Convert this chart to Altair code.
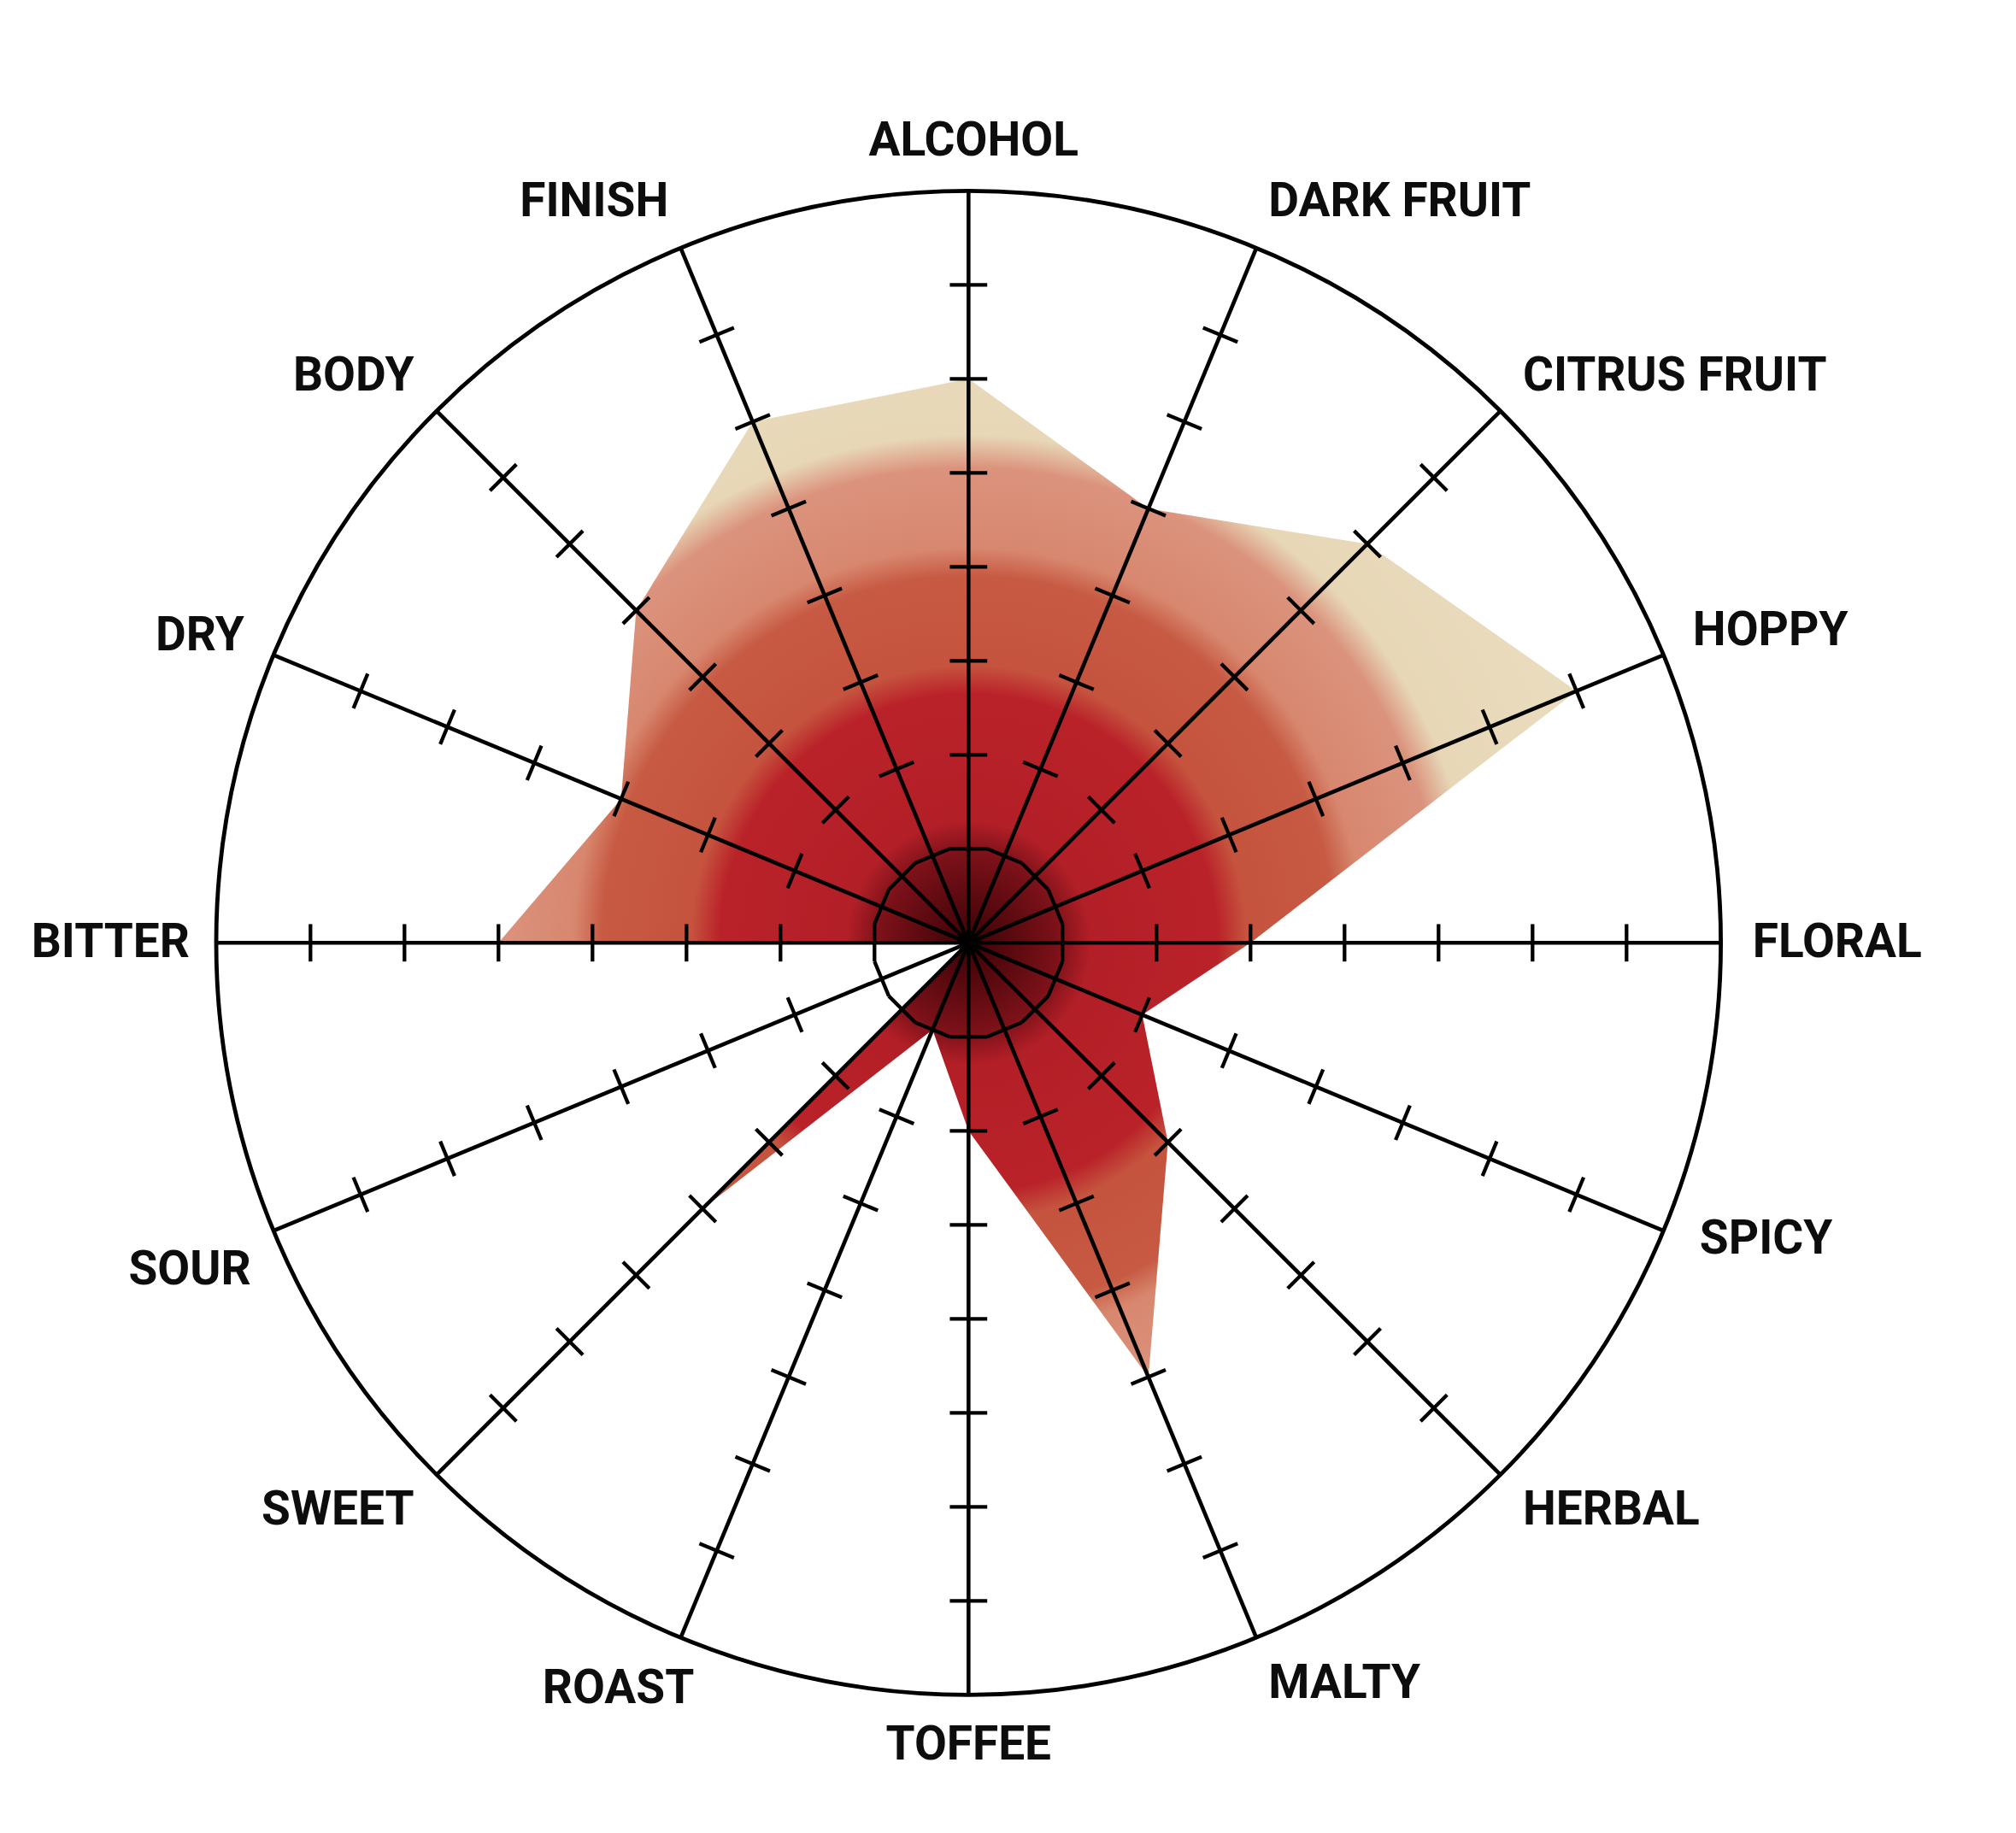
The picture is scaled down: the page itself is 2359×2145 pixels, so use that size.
import math
import altair as alt
import pandas as pd

# ---------------- data ----------------
categories = ["ALCOHOL", "DARK FRUIT", "CITRUS FRUIT", "HOPPY", "FLORAL", "SPICY",
              "HERBAL", "MALTY", "TOFFEE", "ROAST", "SWEET", "SOUR", "BITTER",
              "DRY", "BODY", "FINISH"]
values = [6, 5, 6, 7, 3, 2, 3, 5, 2, 1, 4, 0, 5, 4, 5, 6]
tick_levels = [1, 2, 3, 4, 5, 6, 7]
scale_max = 8

# ---------------- layout ----------------
W, H = 2330, 2120          # plot area (px)
PPU = 110.0                # pixels per unit
CX, CY = 1125.3, 1095.3    # centre of the radar inside the plot area (px)
x_dom = [-CX / PPU, (W - CX) / PPU]
y_dom = [(CY - H) / PPU, CY / PPU]

# small hand placement nudges of some labels (px: right, down)
label_nudge = {"SOUR": (8, 24), "SPICY": (8, -12), "ROAST": (30, 6),
               "BITTER": (6, 0), "HOPPY": (0, -6), "ALCOHOL": (6, 0)}

n = len(categories)
ang = [2 * math.pi * i / n for i in range(n)]
sx = [math.sin(a) for a in ang]
cy = [math.cos(a) for a in ang]

xs = alt.Scale(domain=x_dom, nice=False, zero=False)
ys = alt.Scale(domain=y_dom, nice=False, zero=False)

# gradient disc (radial bands) ----------------------------------------
stops_r = [0.0, 0.5, 0.95, 1.3, 2.65, 2.95, 3.9, 4.2, 5.05, 5.4, 8.0]
stops_c = ["#3a0306", "#5c0a10", "#7c1119", "#b31f27", "#ba2229", "#c5533e",
           "#c75a43", "#d8876f", "#db937d", "#e7d7b7", "#ebdfc2"]
grad = alt.RadialGradient(
    gradient="radial",
    stops=[alt.GradientStop(offset=r / scale_max, color=c) for r, c in zip(stops_r, stops_c)],
    x1=0.5, y1=0.5, r1=0, x2=0.5, y2=0.5, r2=0.5,
)
centre_df = pd.DataFrame({"x": [0.0], "y": [0.0], "r": [scale_max]})
rscale = alt.Scale(type="linear", domain=[0, scale_max], range=[0, scale_max * PPU], zero=True)

disc = alt.Chart(centre_df).mark_arc(theta=0, theta2=2 * math.pi, fill=grad, strokeWidth=0).encode(
    x=alt.X("x:Q", scale=xs, axis=None),
    y=alt.Y("y:Q", scale=ys, axis=None),
    radius=alt.Radius("r:Q", scale=rscale),
)

# white mask: everything outside the data polygon (keyhole polygon) -------
B = scale_max + 0.4
pts = [(-B, 0), (-B, B), (B, B), (B, -B), (-B, -B), (-B, 0)]
start = categories.index("BITTER")
for k in range(n + 1):
    i = (start - k) % n
    pts.append((values[i] * sx[i], values[i] * cy[i]))
pts.append((-B, 0))
mask_df = pd.DataFrame({"x": [p[0] for p in pts], "y": [p[1] for p in pts],
                        "o": list(range(len(pts)))})
mask = alt.Chart(mask_df).mark_line(fill="white", strokeOpacity=0, strokeWidth=0).encode(
    x=alt.X("x:Q", scale=xs, axis=None),
    y=alt.Y("y:Q", scale=ys, axis=None),
    order="o:Q",
)

# spokes ---------------------------------------------------------------
spoke_df = pd.DataFrame({"x": [0.0] * n, "y": [0.0] * n,
                         "x2": [scale_max * s for s in sx],
                         "y2": [scale_max * c for c in cy]})
spokes = alt.Chart(spoke_df).mark_rule(color="black", strokeWidth=4.6).encode(
    x=alt.X("x:Q", scale=xs, axis=None), y=alt.Y("y:Q", scale=ys, axis=None),
    x2="x2:Q", y2="y2:Q",
)

# ticks (perpendicular, those at level 1 join into a 16-gon) ------------
hl = math.tan(math.pi / n)
rows = []
for i in range(n):
    for r in tick_levels:
        px, py = r * sx[i], r * cy[i]
        ux, uy = cy[i], -sx[i]
        rows.append({"x": px - hl * ux, "y": py - hl * uy, "x2": px + hl * ux, "y2": py + hl * uy})
tick_df = pd.DataFrame(rows)
ticks = alt.Chart(tick_df).mark_rule(color="black", strokeWidth=4.3).encode(
    x=alt.X("x:Q", scale=xs, axis=None), y=alt.Y("y:Q", scale=ys, axis=None),
    x2="x2:Q", y2="y2:Q",
)

# outer circle ---------------------------------------------------------
ring = alt.Chart(centre_df).mark_arc(theta=0, theta2=2 * math.pi, fillOpacity=0,
                                     stroke="black", strokeWidth=4.8).encode(
    x=alt.X("x:Q", scale=xs, axis=None),
    y=alt.Y("y:Q", scale=ys, axis=None),
    radius=alt.Radius("r:Q", scale=rscale),
)

# labels ---------------------------------------------------------------
lx, ly = [], []
for i, c in enumerate(categories):
    ndx, ndy = label_nudge.get(c, (0, 0))
    lx.append(8.34 * sx[i] + ndx / PPU)
    ly.append(8.53 * cy[i] - ndy / PPU)
lab_df = pd.DataFrame({
    "label": categories,
    "x": lx,
    "y": ly,
    "side": ["left" if s > 0.01 else ("right" if s < -0.01 else "center") for s in sx],
})


def label_layer(side):
    return alt.Chart(lab_df).transform_filter(alt.datum.side == side).mark_text(
        align=side, baseline="middle", font="Roboto", fontSize=55,
        fontWeight="bold", color="#0d0d0d",
    ).encode(
        x=alt.X("x:Q", scale=xs, axis=None), y=alt.Y("y:Q", scale=ys, axis=None),
        text="label:N",
    )


chart = alt.layer(
    disc, mask, spokes, ticks, ring,
    label_layer("left"), label_layer("right"), label_layer("center"),
).properties(
    width=W, height=H,
    autosize=alt.AutoSizeParams(type="none"),
    padding=0,
    background="white",
).configure_view(strokeWidth=0, stroke="transparent")

chart.save("out.html", embed_options={"renderer": "svg", "actions": False})
